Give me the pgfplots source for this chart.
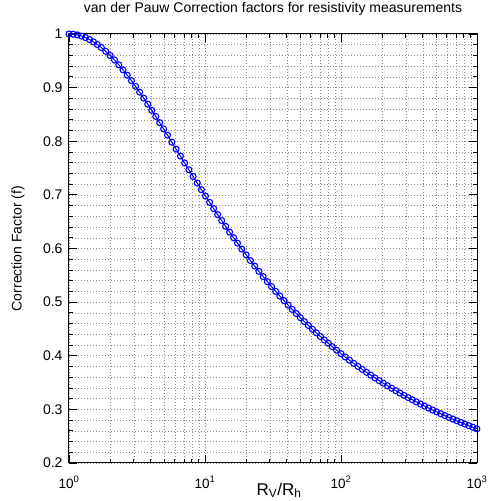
\documentclass[border=0pt]{standalone}
\usepackage{fontspec}
\setmainfont{Liberation Sans}
\usepackage{pgfplots}
\pgfplotsset{compat=1.18}

\begin{document}
\begin{tikzpicture}
\begin{axis}[
  name=ax,
  scale only axis,
  width=408pt, height=429pt,
  xmode=log,
  xmin=1, xmax=1000,
  ymin=0.2, ymax=1,
  clip=false,
  xtick={1,10,100,1000},
  xticklabels={10\textsuperscript{0},10\textsuperscript{1},10\textsuperscript{2},10\textsuperscript{3}},
  ytick={0.2,0.3,0.4,0.5,0.6,0.7,0.8,0.9,1},
  minor y tick num=4,
  grid=both,
  major grid style={black!45, line width=0.5pt, dash pattern=on 0.6pt off 2.4pt},
  minor grid style={black!45, line width=0.5pt, dash pattern=on 0.6pt off 2.4pt},
  axis line style={black, line width=1pt},
  tick style={black, line width=0.8pt},
  major tick length=8pt,
  minor tick length=4pt,
  /pgf/number format/assume math mode=true,
  yticklabel style={/pgf/number format/fixed, /pgf/number format/precision=1,
    font=\fontsize{14}{16}\selectfont, xshift=-3pt},
  xticklabel style={font=\fontsize{13.5}{15}\selectfont, anchor=base, yshift=-25pt},
  title={van der Pauw Correction factors for resistivity measurements},
  title style={at={(axis description cs:0.5,1)}, anchor=base, yshift=15pt,
    font=\fontsize{14}{16}\selectfont},
  xlabel={R\textsubscript{V}/R\textsubscript{h}},
  xlabel style={at={(axis description cs:0.515,0)}, anchor=base, yshift=-32pt,
    font=\fontsize{17}{19}\selectfont},
  ylabel={Correction Factor (f)},
  ylabel style={at={(axis description cs:-0.125,0.5)}, anchor=center,
    font=\fontsize{14}{16}\selectfont},
]
% correction factor f against the resistance ratio
\addplot[blue, line width=1pt, mark=o, mark size=3pt,
  mark options={line width=1.1pt}] coordinates {
(1,1) (1.07344,0.99956) (1.15141,0.99828) (1.23413,0.99618) (1.32187,0.99331)
(1.41487,0.98969) (1.51342,0.98538) (1.61779,0.98040) (1.72827,0.97482) (1.86280,0.96772)
(2.00626,0.95994) (2.15917,0.95154) (2.32206,0.94258) (2.49554,0.93313) (2.68018,0.92324)
(2.87662,0.91298) (3.08555,0.90239) (3.30764,0.89152) (3.54364,0.88043) (3.79435,0.86916)
(4.06056,0.85775) (4.34315,0.84623) (4.64301,0.83465) (4.96111,0.82303) (5.29843,0.81141)
(5.70333,0.79832) (6.13561,0.78530) (6.59699,0.77236) (7.08926,0.75954) (7.61430,0.74685)
(8.17409,0.73432) (8.77078,0.72197) (9.40656,0.70980) (10.0839,0.69783) (10.8051,0.68606)
(11.5730,0.67451) (12.3905,0.66319) (13.2602,0.65208) (14.1854,0.64121) (15.1695,0.63056)
(16.2159,0.62014) (17.3283,0.60995) (18.6498,0.59887) (20.0639,0.58807) (21.5765,0.57754)
(23.1941,0.56730) (24.9235,0.55732) (26.7722,0.54760) (28.7477,0.53814) (30.8583,0.52894)
(33.1126,0.51998) (35.5205,0.51127) (38.0910,0.50278) (40.8355,0.49453) (43.7642,0.48650)
(46.8898,0.47868) (50.2247,0.47107) (53.7824,0.46367) (57.5764,0.45646) (61.6215,0.44944)
(65.9351,0.44261) (70.5337,0.43596) (75.4351,0.42948) (80.6587,0.42317) (86.2238,0.41703)
(92.7836,0.41043) (99.8172,0.40401) (107.357,0.39778) (115.437,0.39172) (124.098,0.38583)
(133.377,0.38009) (143.318,0.37451) (153.966,0.36908) (165.367,0.36380) (177.577,0.35865)
(190.645,0.35364) (204.638,0.34875) (219.614,0.34400) (235.646,0.33936) (252.796,0.33484)
(271.146,0.33043) (290.783,0.32613) (311.782,0.32194) (334.243,0.31785) (358.281,0.31385)
(383.968,0.30996) (411.440,0.30615) (440.815,0.30243) (472.230,0.29880) (505.780,0.29525)
(541.603,0.29178) (579.930,0.28839) (620.889,0.28508) (664.653,0.28184) (711.407,0.27867)
(761.359,0.27557) (814.709,0.27253) (871.699,0.26956) (932.559,0.26665) (997.559,0.26380)
};
\end{axis}
\pgfresetboundingbox
\path[use as bounding box] ([xshift=-69pt,yshift=-38pt]ax.south west)
  rectangle ([xshift=10pt,yshift=34pt]ax.north east);
\end{tikzpicture}
\end{document}
